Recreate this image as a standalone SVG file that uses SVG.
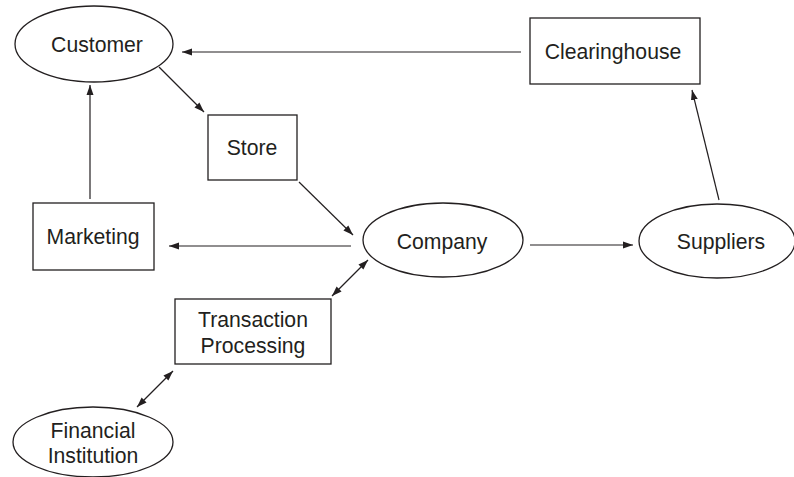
<svg xmlns="http://www.w3.org/2000/svg" width="794" height="477" viewBox="0 0 794 477">
<style>
.n{fill:#fff;stroke:#231f20;stroke-width:1.3}
.t{font-family:"Liberation Sans",Arial,sans-serif;font-size:21.2px;fill:#231f20;text-anchor:middle}
.c{stroke:#231f20;stroke-width:1.2;fill:none}
</style>
<defs>
<marker id="a" viewBox="0 0 10 10" refX="10" refY="5" markerWidth="10" markerHeight="10" markerUnits="userSpaceOnUse" orient="auto-start-reverse">
<path d="M0,1.5 L10,5 L0,8.5 Z" fill="#231f20"/>
</marker>
</defs>
<rect width="794" height="477" fill="#fff"/>
<g id="connectors">
<line class="c" x1="521" y1="52" x2="182" y2="52" marker-end="url(#a)"/>
<line class="c" x1="159" y1="67" x2="204" y2="112" marker-end="url(#a)"/>
<line class="c" x1="90" y1="199" x2="90" y2="85" marker-end="url(#a)"/>
<line class="c" x1="299" y1="182" x2="353" y2="235" marker-end="url(#a)"/>
<line class="c" x1="351" y1="246" x2="169" y2="246" marker-end="url(#a)"/>
<line class="c" x1="530" y1="245" x2="633" y2="245" marker-end="url(#a)"/>
<line class="c" x1="719" y1="200" x2="692" y2="90" marker-end="url(#a)"/>
<line class="c" x1="332" y1="296" x2="368" y2="260" marker-start="url(#a)" marker-end="url(#a)"/>
<line class="c" x1="137" y1="407" x2="173" y2="371" marker-start="url(#a)" marker-end="url(#a)"/>
</g>
<g id="customer">
<ellipse class="n" cx="94" cy="44" rx="79" ry="38"/>
<text class="t" x="97" y="52">Customer</text>
</g>
<g id="clearinghouse">
<rect class="n" x="530" y="18" width="170" height="66"/>
<text class="t" x="613" y="59">Clearinghouse</text>
</g>
<g id="store">
<rect class="n" x="208" y="115" width="89" height="65"/>
<text class="t" x="252" y="155">Store</text>
</g>
<g id="marketing">
<rect class="n" x="33" y="203" width="121" height="67"/>
<text class="t" x="93" y="244">Marketing</text>
</g>
<g id="company">
<ellipse class="n" cx="443" cy="240" rx="80" ry="37"/>
<text class="t" x="442" y="249">Company</text>
</g>
<g id="suppliers">
<ellipse class="n" cx="717" cy="241" rx="78" ry="37"/>
<text class="t" x="721" y="249">Suppliers</text>
</g>
<g id="transaction-processing">
<rect class="n" x="175" y="299" width="156" height="65"/>
<text class="t" x="253" y="327">Transaction</text>
<text class="t" x="253" y="353">Processing</text>
</g>
<g id="financial-institution">
<ellipse class="n" cx="93" cy="442" rx="80" ry="35"/>
<text class="t" x="93" y="438">Financial</text>
<text class="t" x="93" y="463">Institution</text>
</g>
</svg>
